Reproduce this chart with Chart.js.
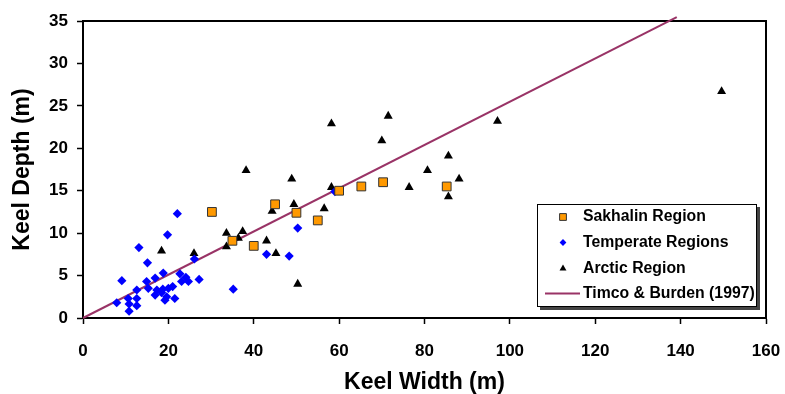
<!DOCTYPE html>
<html><head><meta charset="utf-8">
<script src="https://cdn.jsdelivr.net/npm/chart.js@4/dist/chart.umd.min.js"></script>
<style>html,body{margin:0;padding:0;background:#fff}#wrap{width:785px;height:394px;position:relative}</style>
</head><body><div id="wrap"><canvas id="c" width="785" height="394"></canvas></div>
<script>
// ---- data ----
const sakhalinWidth = [30.2, 35, 40, 45, 50, 55, 60, 65.2, 70.3, 85.2];
const sakhalinDepth = [12.5, 9.1, 8.5, 13.4, 12.4, 11.5, 15.0, 15.5, 16.0, 15.5];

const temperateWidth = [22.1, 19.8, 13.1, 15.1, 26.1, 9.1, 18.8, 16.9, 14.9, 22.7, 24.1, 23.1, 24.7, 27.2,
  12.6, 15.3, 17.3, 18.7, 20.0, 21.0, 16.9, 18.4, 19.6, 21.5, 19.2, 7.9, 10.6, 12.6, 10.8, 12.6, 10.8,
  35.2, 43.0, 48.3, 50.3, 59.0];
const temperateDepth = [12.3, 9.8, 8.3, 6.5, 6.95, 4.4, 5.3, 4.7, 4.3, 5.2, 4.8, 4.3, 4.3, 4.55,
  3.3, 3.5, 3.3, 3.4, 3.5, 3.7, 2.7, 3.0, 2.5, 2.3, 2.1, 1.8, 2.3, 2.3, 1.65, 1.45, 0.8,
  3.4, 7.5, 7.3, 10.6, 14.9];

const arcticWidth = [18.4, 26.0, 33.6, 33.6, 36.4, 37.4, 38.2, 43.0, 44.3, 45.2, 48.9, 49.4, 50.3, 56.5,
  58.2, 58.2, 70.0, 71.5, 76.4, 80.7, 85.6, 85.6, 88.1, 97.1, 149.6];
const arcticDepth = [7.9, 7.6, 10.0, 8.4, 9.4, 10.2, 17.4, 9.1, 12.6, 7.6, 16.4, 13.4, 4.0, 12.9,
  15.4, 22.9, 20.9, 23.8, 15.4, 17.4, 19.1, 14.3, 16.4, 23.2, 26.7];

const timcoWidth = [0, 139.1];
const timcoDepth = [0, 35.45];

const xTicks = [0, 20, 40, 60, 80, 100, 120, 140, 160];
const yTicks = [0, 5, 10, 15, 20, 25, 30, 35];

const seriesNames = ['Sakhalin Region', 'Temperate Regions', 'Arctic Region', 'Timco & Burden (1997)'];

const toPts = (xs, ys) => xs.map((x, i) => ({x: x, y: ys[i]}));
const FONT = "'Liberation Sans', Arial, sans-serif";

const framePlugin = {
  id: 'frame',
  beforeDatasetsDraw(chart) {
    const {ctx, chartArea: a} = chart;
    ctx.save();
    ctx.strokeStyle = '#000';
    ctx.lineWidth = 2;
    ctx.strokeRect(a.left, a.top, a.right - a.left, a.bottom - a.top);
    ctx.restore();
  }
};

const legendPlugin = {
  id: 'boxLegend',
  afterDraw(chart) {
    const {ctx, chartArea: a} = chart;
    const w = 220, h = 103;
    const x0 = a.right - 229, y0 = 204;
    ctx.save();
    ctx.fillStyle = '#444';
    ctx.fillRect(x0 + 3, y0 + 3, w, h);
    ctx.fillStyle = '#fff';
    ctx.fillRect(x0, y0, w, h);
    ctx.strokeStyle = '#000';
    ctx.lineWidth = 1;
    ctx.strokeRect(x0 + 0.5, y0 + 0.5, w - 1, h - 1);
    const rowY = [217, 242.5, 268.5, 293.5];
    const sizes = [4.8, 3.4, 4.0];
    ctx.font = 'bold 15.8px ' + FONT;
    ctx.textBaseline = 'middle';
    ctx.textAlign = 'left';
    chart.data.datasets.forEach((ds, i) => {
      const y = rowY[i];
      if (i < 3) {
        ctx.fillStyle = ds.backgroundColor;
        ctx.strokeStyle = ds.borderColor;
        ctx.lineWidth = ds.borderWidth || 0;
        Chart.helpers.drawPoint(ctx, {pointStyle: ds.pointStyle, radius: sizes[i], borderWidth: ds.borderWidth || 0, rotation: 0}, x0 + 26, y);
      } else {
        ctx.strokeStyle = ds.borderColor;
        ctx.lineWidth = 2;
        ctx.beginPath(); ctx.moveTo(x0 + 8, y); ctx.lineTo(x0 + 43, y); ctx.stroke();
      }
      ctx.fillStyle = '#000';
      ctx.fillText(ds.label, x0 + 46, y);
    });
    ctx.restore();
  }
};

new Chart(document.getElementById('c'), {
  type: 'scatter',
  data: {
    datasets: [
      {label: seriesNames[0], data: toPts(sakhalinWidth, sakhalinDepth), pointStyle: 'rect', pointRadius: 6.2,
       backgroundColor: '#FF9900', borderColor: '#333333', borderWidth: 1, order: 0},
      {label: seriesNames[1], data: toPts(temperateWidth, temperateDepth), pointStyle: 'rectRot', pointRadius: 4.6,
       backgroundColor: '#0000FF', borderColor: '#0000FF', borderWidth: 0, order: 1},
      {label: seriesNames[2], data: toPts(arcticWidth, arcticDepth), pointStyle: 'triangle', pointRadius: 5.2,
       backgroundColor: '#000000', borderColor: '#000000', borderWidth: 0, order: 2},
      {label: seriesNames[3], type: 'line', data: toPts(timcoWidth, timcoDepth), showLine: true, pointRadius: 0,
       borderColor: '#993366', borderWidth: 2, fill: false, clip: false, order: 3}
    ]
  },
  options: {
    responsive: false,
    animation: false,
    devicePixelRatio: 1,
    layout: {padding: {left: 0, top: 21, right: 19, bottom: 0}},
    plugins: {legend: {display: false}, tooltip: {enabled: false}},
    scales: {
      x: {
        type: 'linear', min: 0, max: 160,
        afterFit(s) { s.height = 76; s.paddingLeft = 0; s.paddingRight = 0; },
        afterBuildTicks(s) { s.ticks = xTicks.map(v => ({value: v})); },
        ticks: {color: '#000', font: {family: FONT, size: 17, weight: 'bold'}, padding: 17, maxRotation: 0},
        grid: {drawOnChartArea: false, tickLength: 6, tickColor: '#000', tickWidth: 1.5},
        border: {color: '#000', width: 2},
        title: {display: true, text: 'Keel Width (m)', color: '#000',
                font: {family: FONT, size: 23, weight: 'bold', lineHeight: 1}, padding: {top: 0, bottom: 0}}
      },
      y: {
        type: 'linear', min: 0, max: 35,
        afterFit(s) { s.width = 83; s.paddingTop = 0; s.paddingBottom = 0; },
        afterBuildTicks(s) { s.ticks = yTicks.map(v => ({value: v})); },
        ticks: {color: '#000', font: {family: FONT, size: 17, weight: 'bold'}, padding: 9},
        grid: {drawOnChartArea: false, tickLength: 6, tickColor: '#000', tickWidth: 1.5},
        border: {color: '#000', width: 2},
        title: {display: true, text: 'Keel Depth (m)', color: '#000',
                font: {family: FONT, size: 23, weight: 'bold', lineHeight: 1.2}, padding: {top: 9, bottom: 0}}
      }
    }
  },
  plugins: [framePlugin, legendPlugin]
});
</script>
</body></html>
